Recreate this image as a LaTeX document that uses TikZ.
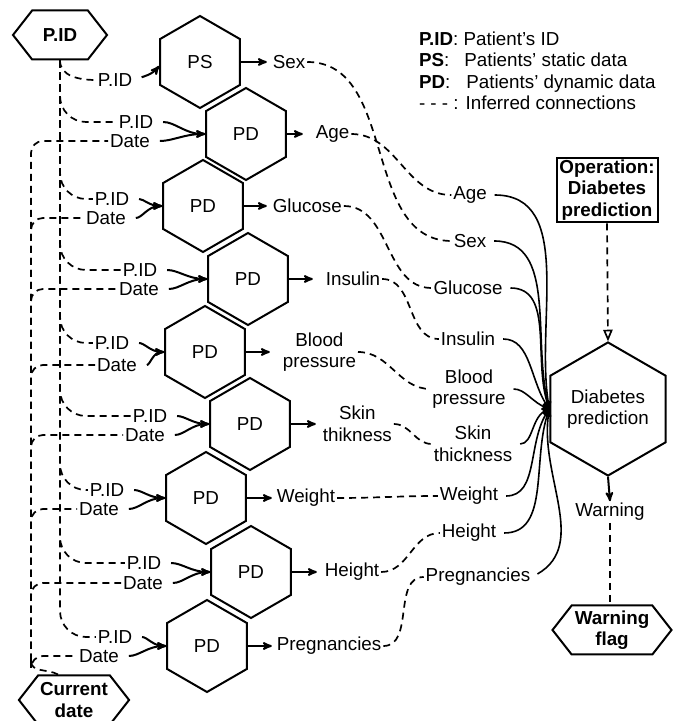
\documentclass[tikz,border=0pt]{standalone}
\usepackage{fontspec}
\setmainfont{Liberation Sans}
\usepackage{tikz}
\usetikzlibrary{
  positioning,
  arrows,
  shapes.geometric,
  shapes.symbols
}
\newcommand{\figfont}{\fontsize{18.8}{21.5}\selectfont}
\tikzset{
  >=stealth',
  hexv/.style={draw, regular polygon, regular polygon sides=6, shape border rotate=30,
    minimum size=92, inner sep=0pt, align=center},
  hexh/.style={draw, signal, signal to=east and west, signal pointer angle=104,
    minimum height=49, inner sep=2pt, align=center, font=\figfont\bfseries},
  lbl/.style={inner sep=1pt, align=center},
  inferred/.style={dash pattern=on 7pt off 5pt, line width=1.7pt},
  feed/.style={->, shorten <=8pt}
}

\begin{document}
\begin{tikzpicture}[x=1pt, y=1pt, line width=2pt, font=\figfont]
  \useasboundingbox (0,0) rectangle (681,721);
  \clip (0,0) rectangle (681,721);
  % hexagons
  \node[hexh, minimum width=94] (pid) at (60,686) {P.ID};
  \node[hexh, minimum width=95] (cdate) at (74,21) {Current\\date};
  \node[hexv] (ps) at (200,659) {PS};
  \node[hexv] (pd1) at (246,587) {PD};
  \node[hexv] (pd2) at (203,515) {PD};
  \node[hexv] (pd3) at (248,442) {PD};
  \node[hexv] (pd4) at (205,369) {PD};
  \node[hexv] (pd5) at (250,297) {PD};
  \node[hexv] (pd6) at (206,223) {PD};
  \node[hexv] (pd7) at (251,149) {PD};
  \node[hexv] (pd8) at (207,75) {PD};
  \node[hexv] (dp) at (608,312) {Diabetes\\prediction};
  \node[draw, align=center, font=\figfont\bfseries, inner sep=2pt, minimum width=101] (op) at (607,531) {Operation:\\Diabetes\\prediction};
  \node[lbl] (warn) at (610,209) {Warning};
  \node[hexh, minimum width=119] (wflag) at (612,91) {Warning\\flag};
  \node[anchor=west, align=left, inner sep=0pt] (legend) at (418,650) {\textbf{P.ID}: Patient's ID\\
    \textbf{PS}:\hspace{15pt}Patients' static data\\
    \textbf{PD}:\hspace{16pt}Patients' dynamic data\\
    - - - : Inferred connections};
  % P.ID and Date labels
  \node[lbl] (id0) at (115,641) {P.ID};
  \node[lbl] (id1) at (136,599) {P.ID};
  \node[lbl] (dt1) at (130,580) {Date};
  \node[lbl] (id2) at (112,522) {P.ID};
  \node[lbl] (dt2) at (106,503) {Date};
  \node[lbl] (id3) at (140,451) {P.ID};
  \node[lbl] (dt3) at (139,432) {Date};
  \node[lbl] (id4) at (112,378) {P.ID};
  \node[lbl] (dt4) at (117,356) {Date};
  \node[lbl] (id5) at (150,305) {P.ID};
  \node[lbl] (dt5) at (145,286) {Date};
  \node[lbl] (id6) at (107,231) {P.ID};
  \node[lbl] (dt6) at (99,212) {Date};
  \node[lbl] (id7) at (144,158) {P.ID};
  \node[lbl] (dt7) at (143,138) {Date};
  \node[lbl] (id8) at (115,84) {P.ID};
  \node[lbl] (dt8) at (99,65) {Date};
  \coordinate (dbase) at (31,60);
  % outputs of the hexagons
  \node[lbl, right=30pt of ps] (osex) {Sex};
  \node[lbl, right=27pt of pd1] (oage) {Age};
  \node[lbl, right=27pt of pd2] (oglu) {Glucose};
  \node[lbl, right=35pt of pd3] (oins) {Insulin};
  \node[lbl, right=35pt of pd4] (obp) {Blood\\pressure};
  \node[lbl, right=30pt of pd5] (oskin) {Skin\\thikness};
  \node[lbl, right=28pt of pd6] (owt) {Weight};
  \node[lbl, right=31pt of pd7] (oht) {Height};
  \node[lbl, right=27pt of pd8] (opreg) {Pregnancies};
  % inputs of the prediction
  \node[lbl] (iage) at (470,526) {Age};
  \node[lbl] (isex) at (470,480) {Sex};
  \node[lbl] (iglu) at (468,433) {Glucose};
  \node[lbl] (iins) at (468,382) {Insulin};
  \node[lbl] (ibp) at (469,332) {Blood\\pressure};
  \node[lbl] (iskin) at (473,277) {Skin\\thickness};
  \node[lbl] (iwt) at (469,225) {Weight};
  \node[lbl] (iht) at (469,188) {Height};
  \node[lbl] (ipreg) at (478,144) {Pregnancies};
  % P.ID links
  \draw[inferred] (pid.south) to[out=-90,in=180] (id0.west);
  \draw[inferred, rounded corners=26pt] (pid.south) |- (id1.west);
  \draw[inferred, rounded corners=26pt] (pid.south) |- (id2.west);
  \draw[inferred, rounded corners=26pt] (pid.south) |- (id3.west);
  \draw[inferred, rounded corners=26pt] (pid.south) |- (id4.west);
  \draw[inferred, rounded corners=26pt] (pid.south) |- (id5.west);
  \draw[inferred, rounded corners=26pt] (pid.south) |- (id6.west);
  \draw[inferred, rounded corners=26pt] (pid.south) |- (id7.west);
  \draw[inferred, rounded corners=26pt] (pid.south) |- (id8.west);
  % Date links
  \draw[inferred] ([xshift=-16]cdate.north) to[out=150,in=-90] (dbase);
  \draw[inferred, rounded corners=12pt] (dbase) |- (dt1.west);
  \draw[inferred, rounded corners=12pt] (dbase) |- (dt2.west);
  \draw[inferred, rounded corners=12pt] (dbase) |- (dt3.west);
  \draw[inferred, rounded corners=12pt] (dbase) |- (dt4.west);
  \draw[inferred, rounded corners=12pt] (dbase) |- (dt5.west);
  \draw[inferred, rounded corners=12pt] (dbase) |- (dt6.west);
  \draw[inferred, rounded corners=12pt] (dbase) |- (dt7.west);
  \draw[inferred, rounded corners=12pt] (dbase) |- (dt8.west);
  % feeding the hexagons
  \draw[feed] (id0.east) to[out=20,in=-130] ([yshift=-4]ps.west);
  \draw[feed] (id1.east) to[out=0,in=180] (pd1.west);
  \draw[feed] (dt1.east) to[out=0,in=180] (pd1.west);
  \draw[feed] (id2.east) to[out=0,in=180] (pd2.west);
  \draw[feed] (dt2.east) to[out=0,in=180] (pd2.west);
  \draw[feed] (id3.east) to[out=0,in=180] (pd3.west);
  \draw[feed] (dt3.east) to[out=0,in=180] (pd3.west);
  \draw[feed] (id4.east) to[out=0,in=180] (pd4.west);
  \draw[feed] (dt4.east) to[out=0,in=180] (pd4.west);
  \draw[feed] (id5.east) to[out=0,in=180] (pd5.west);
  \draw[feed] (dt5.east) to[out=0,in=180] (pd5.west);
  \draw[feed] (id6.east) to[out=0,in=180] (pd6.west);
  \draw[feed] (dt6.east) to[out=0,in=180] (pd6.west);
  \draw[feed] (id7.east) to[out=0,in=180] (pd7.west);
  \draw[feed] (dt7.east) to[out=0,in=180] (pd7.west);
  \draw[feed] (id8.east) to[out=0,in=180] (pd8.west);
  \draw[feed] (dt8.east) to[out=0,in=180] (pd8.west);
  % outputs
  \draw[->, shorten >=4pt] (ps.east) -- (osex.west);
  \draw[->, shorten >=11pt] (pd1.east) -- (oage.west);
  \draw[->, shorten >=4pt] (pd2.east) -- (oglu.west);
  \draw[->, shorten >=11pt] (pd3.east) -- (oins.west);
  \draw[->, shorten >=11pt] (pd4.east) -- (obp.west);
  \draw[->, shorten >=5pt] (pd5.east) -- (oskin.west);
  \draw[->, shorten >=3pt] (pd6.east) -- (owt.west);
  \draw[->, shorten >=6pt] (pd7.east) -- (oht.west);
  \draw[->, shorten >=3pt] (pd8.east) -- (opreg.west);
  % inferred connections
  \draw[inferred] (osex) to[out=0,in=180] (isex);
  \draw[inferred] (oage) to[out=0,in=180] (iage);
  \draw[inferred] (oglu) to[out=0,in=180] (iglu);
  \draw[inferred] (oins) to[out=0,in=180] (iins);
  \draw[inferred] (obp) to[out=0,in=180] (ibp);
  \draw[inferred] (oskin) to[out=0,in=180] (iskin);
  \draw[inferred] (owt) to[out=0,in=180] (iwt);
  \draw[inferred] (oht) to[out=0,in=180] (iht);
  \draw[inferred] (opreg) to[out=0,in=180] (ipreg);
  % into the prediction
  \draw[feed, line width=1.6pt, shorten <=6pt] (iage.east) to[out=0,in=100] (dp.west);
  \draw[feed, line width=1.6pt, shorten <=6pt] (isex.east) to[out=0,in=105] (dp.west);
  \draw[feed, line width=1.6pt, shorten <=6pt] (iglu.east) to[out=0,in=110] (dp.west);
  \draw[feed, line width=1.6pt, shorten <=6pt] (iins.east) to[out=0,in=125] (dp.west);
  \draw[feed, line width=1.6pt, shorten <=6pt] (ibp.east) to[out=0,in=160] (dp.west);
  \draw[feed, line width=1.6pt, shorten <=6pt] (iskin.east) to[out=0,in=200] (dp.west);
  \draw[feed, line width=1.6pt, shorten <=6pt] (iwt.east) to[out=0,in=235] (dp.west);
  \draw[feed, line width=1.6pt, shorten <=6pt] (iht.east) to[out=0,in=250] (dp.west);
  \draw[feed, line width=1.6pt, shorten <=6pt] (ipreg.east) to[out=30,in=260] (dp.west);
  \draw[inferred, -open triangle 45] (op.south) -- (dp.north);
  \draw[->] (dp.south) -- (warn.north);
  \draw[inferred] (warn.south) -- (warn.south |- wflag.north);
\end{tikzpicture}
\end{document}
